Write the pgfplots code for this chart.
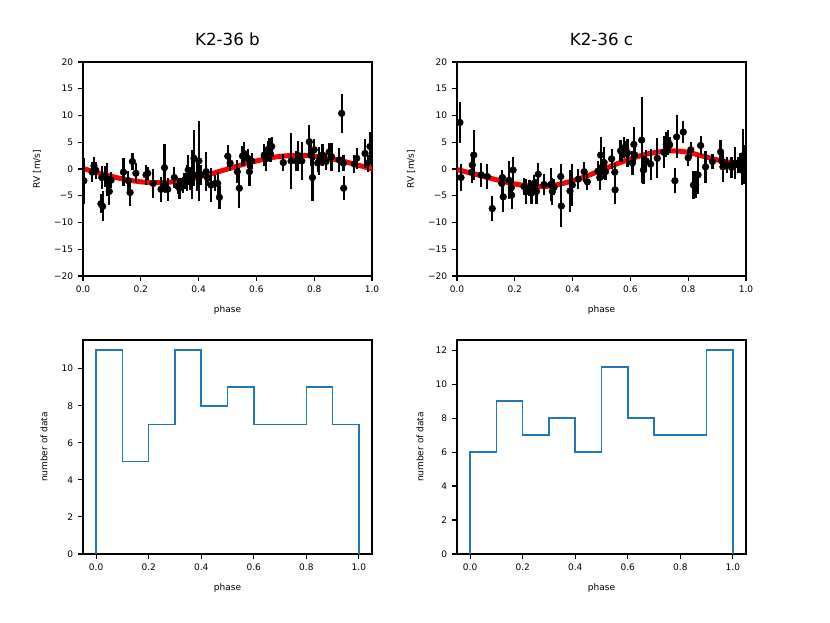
\documentclass[border=0pt]{standalone}
\usepackage{fontspec}
\setmainfont{DejaVu Sans}
\usepackage{pgfplots}
\usepackage{pgfplotstable}
\pgfplotsset{compat=1.18}

\pgfplotstableread{
x y e
0.003 -2.2 4.3
0.032 -0.6 1.9
0.038 0.6 1.6
0.044 -0.2 1.6
0.062 -6.5 1.8
0.068 -7.0 2.8
0.065 -1.6 2.2
0.076 -1.4 1.9
0.084 -1.9 3.1
0.091 -4.2 2.6
0.097 -2.1 1.5
0.140 -0.6 2.6
0.157 -2.2 1.9
0.163 -4.4 2.6
0.171 1.4 1.6
0.183 -0.8 1.9
0.218 -1.1 1.9
0.224 -0.8 1.2
0.243 -2.7 2.7
0.270 -3.8 2.3
0.282 0.25 4.4
0.284 -3.0 1.5
0.293 -3.8 2.2
0.316 -1.6 1.9
0.328 -3.2 1.5
0.334 -3.6 2.0
0.345 -3.0 1.5
0.351 -2.2 1.5
0.359 -1.7 2.5
0.364 -0.2 2.8
0.370 -2.1 1.8
0.378 -1.0 4.6
0.384 2.0 5.2
0.396 -1.1 3.1
0.401 1.5 7.5
0.407 -1.1 1.8
0.426 -0.5 3.6
0.431 -1.7 1.5
0.443 -3.0 3.1
0.457 -2.7 1.5
0.466 -2.7 2.2
0.472 -5.3 2.2
0.501 2.4 2.0
0.509 1.1 1.5
0.534 -0.5 2.2
0.541 -3.6 3.7
0.552 2.4 1.9
0.558 2.9 2.2
0.570 2.0 1.8
0.576 -0.5 2.7
0.584 1.5 1.5
0.627 2.6 2.0
0.633 1.9 2.2
0.639 3.4 1.9
0.645 3.9 1.9
0.649 2.8 1.5
0.653 4.2 1.8
0.693 1.2 1.6
0.720 1.5 5.2
0.739 1.5 1.8
0.745 2.5 2.8
0.757 1.5 3.6
0.783 5.1 3.1
0.789 2.6 2.0
0.794 -1.6 4.4
0.800 3.6 2.0
0.812 1.1 1.6
0.817 1.5 2.6
0.829 2.6 2.0
0.841 1.4 1.6
0.852 3.2 1.6
0.860 2.3 2.6
0.887 1.7 2.2
0.895 10.4 3.7
0.901 1.1 1.5
0.902 -3.6 2.2
0.939 0.9 1.7
0.947 2.0 2.0
0.976 2.9 2.7
0.985 1.1 1.6
0.993 4.2 2.8
}\bdata

\pgfplotstableread{
x y e
0.010 8.7 3.8
0.014 -1.6 2.6
0.051 -0.6 2.0
0.053 0.75 1.5
0.058 2.6 4.7
0.084 -1.1 2.2
0.105 -1.4 2.3
0.122 -7.4 2.3
0.155 -2.7 2.3
0.157 -1.6 1.5
0.160 -5.2 2.8
0.180 -2.1 3.6
0.188 -3.5 1.5
0.189 -4.9 2.5
0.194 -0.2 2.5
0.232 -3.3 1.6
0.240 -4.2 2.3
0.251 -3.6 1.5
0.258 -4.5 2.0
0.266 -2.7 1.5
0.275 -4.2 2.3
0.281 -1.0 2.1
0.301 -2.9 2.0
0.324 -2.9 3.1
0.330 -4.2 2.6
0.336 -3.4 1.5
0.359 -1.4 2.3
0.361 -6.9 4.0
0.391 -4.1 4.0
0.399 -3.0 4.0
0.420 -1.9 1.9
0.440 -0.5 1.9
0.451 -2.4 1.5
0.488 -0.4 1.9
0.494 -1.6 2.4
0.497 2.6 3.3
0.503 0.4 1.5
0.509 1.2 3.0
0.514 -0.5 1.5
0.535 1.9 1.9
0.546 -0.6 1.8
0.547 -3.9 2.6
0.566 3.4 2.0
0.572 2.9 1.5
0.578 4.0 2.0
0.584 3.7 1.5
0.590 3.0 2.6
0.607 1.1 2.2
0.612 4.6 3.3
0.615 2.6 1.5
0.639 5.4 8.0
0.645 -0.2 2.6
0.655 1.5 2.0
0.670 0.9 2.9
0.693 2.0 3.7
0.716 3.1 3.0
0.724 4.6 2.3
0.731 5.0 2.3
0.736 4.5 1.5
0.754 -2.2 2.3
0.760 6.0 4.0
0.783 6.9 2.0
0.800 2.1 1.5
0.809 3.6 1.5
0.818 -3.0 2.7
0.826 -2.9 2.5
0.834 -1.1 3.5
0.843 4.4 1.8
0.860 0.4 3.0
0.884 1.4 1.4
0.912 3.2 2.2
0.916 1.5 1.5
0.920 0.4 2.8
0.935 0.75 1.5
0.950 0.3 2.0
0.962 1.1 3.0
0.973 0.75 1.5
0.979 1.4 1.5
0.985 -0.2 2.8
0.990 2.5 5.0
0.994 0.75 3.5
0.997 2.0 2.5
}\cdata

\pgfplotsset{
  every axis/.append style={
    scale only axis, width=208.08pt, height=154.08pt,
    anchor=south west,
    axis line style={line width=0.8pt, black},
    tick style={line width=0.8pt, black},
    tick align=outside, major tick length=3.5pt,
    xtick pos=left, ytick pos=left,
    tick label style={font=\fontsize{6.5}{7}\selectfont},
    label style={font=\fontsize{6.5}{7}\selectfont},
    /pgf/number format/assume math mode=true,
    clip marker paths=true,
    title style={at={(axis description cs:0.5,1)}, anchor=base, yshift=6pt, font=\fontsize{12}{14}\selectfont},
    xlabel style={at={(axis description cs:0.5,-0.159)}, anchor=center},
  },
  rvaxis/.style={
    xmin=0, xmax=1, ymin=-20, ymax=20,
    xtick={0,0.2,0.4,0.6,0.8,1}, xticklabels={0.0,0.2,0.4,0.6,0.8,1.0},
    ytick={-20,-15,-10,-5,0,5,10,15,20},
    yticklabels={−20,−15,−10,−5,0,5,10,15,20},
    xlabel={phase}, ylabel={RV [m/s]},
    ylabel style={at={(axis description cs:-0.159,0.5)}, anchor=center},
  },
  histaxis/.style={
    xmin=-0.05, xmax=1.05, ymin=0,
    xtick={0,0.2,0.4,0.6,0.8,1}, xticklabels={0.0,0.2,0.4,0.6,0.8,1.0},
    xlabel={phase}, ylabel={number of data},
  },
  pts/.style={black, only marks, mark=*, mark size=2.4pt,
    error bars/.cd, y dir=both, y explicit, error mark=none,
    error bar style={line width=1.6pt, black}},
}

\begin{document}
\begin{tikzpicture}
\useasboundingbox (0,0) rectangle (597.6pt,448.56pt);

% K2-36 b RV
\begin{axis}[rvaxis, at={(59.76pt,249.84pt)}, title={K2-36 b}]
\addplot[red, line width=3.6pt, smooth] coordinates {
(0,0.1) (0.05,-0.7) (0.1,-1.4) (0.15,-2.0) (0.2,-2.4) (0.25,-2.55) (0.3,-2.45)
(0.35,-2.1) (0.4,-1.5) (0.45,-0.8) (0.5,0.0) (0.55,0.8) (0.6,1.5) (0.65,2.1)
(0.7,2.45) (0.75,2.55) (0.8,2.4) (0.85,2.0) (0.9,1.45) (0.95,0.75) (1.0,0.0)};
\addplot[pts] table[x=x, y=y, y error=e] {\bdata};
\end{axis}

% K2-36 c RV
\begin{axis}[rvaxis, at={(329.04pt,249.84pt)}, title={K2-36 c}]
\addplot[red, line width=3.6pt, smooth] coordinates {
(0,-0.1) (0.05,-0.8) (0.1,-1.5) (0.15,-2.2) (0.2,-2.8) (0.25,-3.2) (0.3,-3.3)
(0.35,-2.9) (0.4,-2.2) (0.45,-1.3) (0.5,-0.2) (0.55,0.9) (0.6,1.9) (0.65,2.7)
(0.7,3.2) (0.75,3.4) (0.8,3.1) (0.85,2.4) (0.9,1.7) (0.95,1.2) (1.0,0.9)};
\addplot[pts] table[x=x, y=y, y error=e] {\cdata};
\end{axis}

% histogram b
\begin{axis}[histaxis, at={(59.76pt,49.68pt)}, ymax=11.55,
  ytick={0,2,4,6,8,10},
  ylabel style={at={(axis description cs:-0.135,0.5)}, anchor=center}]
\addplot[color={rgb,255:red,31;green,119;blue,180}, line width=1.1pt] coordinates {
(0,0) (0,11) (0.1,11) (0.1,5) (0.2,5) (0.2,7) (0.3,7) (0.3,11) (0.4,11)
(0.4,8) (0.5,8) (0.5,9) (0.6,9) (0.6,7) (0.7,7) (0.8,7) (0.8,9) (0.9,9)
(0.9,7) (1.0,7) (1.0,0)};
\end{axis}

% histogram c
\begin{axis}[histaxis, at={(329.04pt,49.68pt)}, ymax=12.6,
  ytick={0,2,4,6,8,10,12},
  ylabel style={at={(axis description cs:-0.128,0.5)}, anchor=center}]
\addplot[color={rgb,255:red,31;green,119;blue,180}, line width=1.1pt] coordinates {
(0,0) (0,6) (0.1,6) (0.1,9) (0.2,9) (0.2,7) (0.3,7) (0.3,8) (0.4,8)
(0.4,6) (0.5,6) (0.5,11) (0.6,11) (0.6,8) (0.7,8) (0.7,7) (0.8,7) (0.9,7)
(0.9,12) (1.0,12) (1.0,0)};
\end{axis}
\end{tikzpicture}
\end{document}
